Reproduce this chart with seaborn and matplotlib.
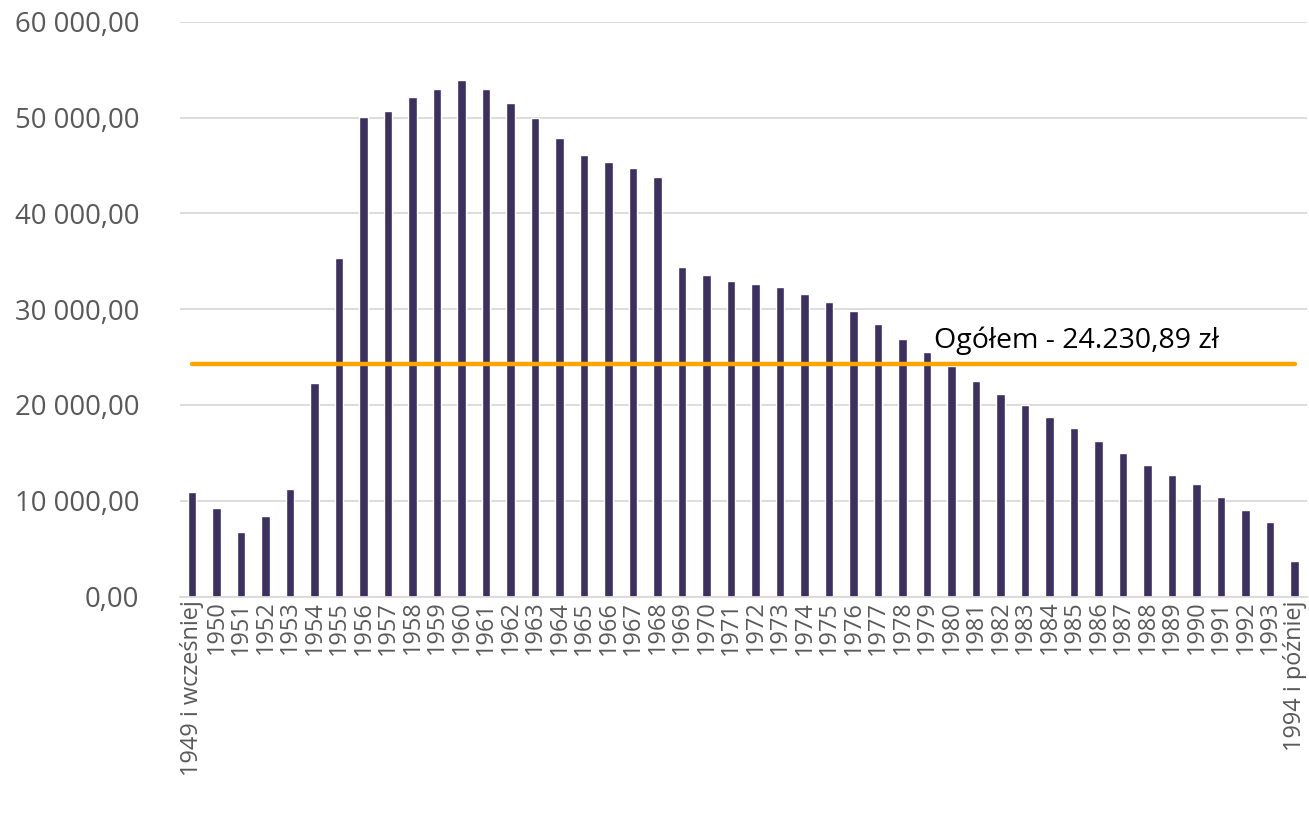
import matplotlib
matplotlib.use("Agg")
import matplotlib.pyplot as plt
from matplotlib.ticker import FuncFormatter, MultipleLocator
import seaborn as sns
import pandas as pd

categories = ["1949 i wcześniej"] + [str(y) for y in range(1950, 1994)] + ["1994 i później"]
values = [
    10880, 9240, 6700, 8370, 11260, 22260, 35320, 50070, 50700, 52130,
    53030, 53940, 52970, 51530, 49970, 47880, 46140, 45370, 44710, 43840,
    34410, 33610, 32980, 32630, 32350, 31590, 30750, 29810, 28460, 26920,
    25540, 24050, 22470, 21180, 20000, 18780, 17560, 16210, 14950, 13770,
    12720, 11720, 10420, 9030, 7750, 3740,
]
average_value = 24230.89
average_label = "Ogółem - 24.230,89 zł"

df = pd.DataFrame({"rok": categories, "wartosc": values})

sns.set_theme(style="white")
plt.rcParams["font.family"] = ["Open Sans", "DejaVu Sans"]

fig = plt.figure(figsize=(13.09, 8.27), dpi=100)
ax = fig.add_axes([0.1373, 0.2787, 0.8611, 0.6948])

sns.barplot(data=df, x="rok", y="wartosc", order=categories, color="#3B3060",
            saturation=1, width=0.34, ax=ax)

ax.plot([0, len(categories) - 1], [average_value, average_value], color="#FFA500",
        lw=3.2, solid_capstyle="round", zorder=5)
ax.text(30.3, 26750, average_label, ha="left", va="center", fontsize=20.5, color="black", zorder=6)

ax.set_xlim(-0.5, len(categories) - 0.5)
ax.set_ylim(0, 60000)
ax.yaxis.set_major_locator(MultipleLocator(10000))

def fmt(v, pos):
    s = f"{v:,.2f}"
    return s.replace(",", " ").replace(".", ",")

ax.yaxis.set_major_formatter(FuncFormatter(fmt))
ax.grid(axis="y", color="#D9D9D9", lw=1.3)
ax.set_axisbelow(True)
for s in ["top", "right", "left"]:
    ax.spines[s].set_visible(False)
ax.spines["bottom"].set_color("#D9D9D9")
ax.spines["bottom"].set_linewidth(1.3)

ax.set_xlabel("")
ax.set_ylabel("")
ax.tick_params(axis="y", length=0, pad=29, labelsize=19.8, labelcolor="#595959")
ax.tick_params(axis="x", length=0, pad=3, labelsize=16.9, labelcolor="#595959")
plt.setp(ax.get_xticklabels(), rotation=90, ha="center", va="top")

fig.savefig("out.png", dpi=100)
